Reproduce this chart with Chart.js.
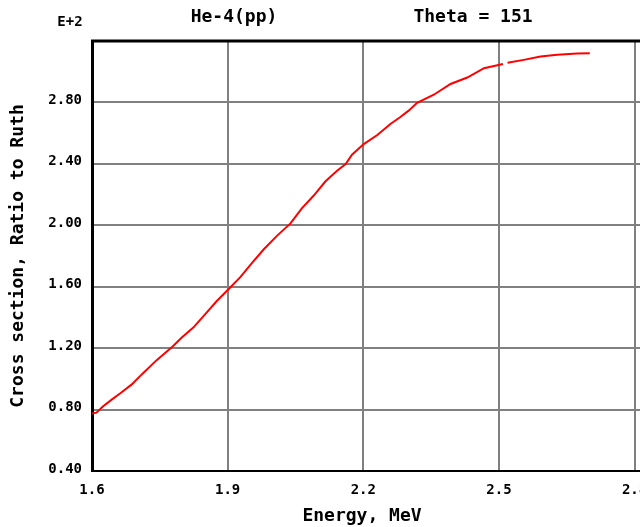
<!DOCTYPE html>
<html>
<head>
<meta charset="utf-8">
<script src="https://cdn.jsdelivr.net/npm/chart.js@4/dist/chart.umd.min.js"></script>
<style>
  html, body { margin: 0; padding: 0; background: #fff; overflow: hidden; }
  #wrap { width: 640px; height: 527px; overflow: hidden; }
  canvas { display: block; }
</style>
</head>
<body>
<div id="wrap"><canvas id="chart" width="725" height="527"></canvas></div>
<script>
// He-4(pp), Theta = 151 -- cross section ratio to Rutherford (units of E+2)
const energy = [1.600, 1.610, 1.624, 1.645, 1.662, 1.688, 1.710, 1.743, 1.779, 1.798,
                1.824, 1.850, 1.876, 1.904, 1.928, 1.954, 1.980, 2.009, 2.039, 2.064,
                2.090, 2.116, 2.142, 2.161, 2.175, 2.201, 2.231, 2.260, 2.282, 2.301,
                2.319, 2.356, 2.393, 2.430, 2.467, 2.509, 2.514, 2.519, 2.555, 2.592,
                2.629, 2.673, 2.701];
const ratio = [0.775, 0.780, 0.820, 0.868, 0.905, 0.964, 1.029, 1.122, 1.213, 1.268,
               1.334, 1.420, 1.507, 1.590, 1.662, 1.755, 1.844, 1.931, 2.012, 2.110,
               2.192, 2.285, 2.355, 2.399, 2.460, 2.529, 2.588, 2.660, 2.705, 2.748,
               2.797, 2.850, 2.920, 2.962, 3.023, 3.050, null, 3.058, 3.077, 3.099,
               3.110, 3.118, 3.120];
const xTicks = [1.6, 1.9, 2.2, 2.5, 2.8];
const yTicks = [0.40, 0.80, 1.20, 1.60, 2.00, 2.40, 2.80];

const MONO = '"DejaVu Sans Mono", "Liberation Mono", monospace';
const GRID = '#808080';

// frame top edge + the free-standing labels
const labelsPlugin = {
    id: 'labels',
    afterDraw(chart) {
        const ctx = chart.ctx;
        const a = chart.chartArea;
        ctx.save();
        ctx.strokeStyle = '#000';
        ctx.lineWidth = 3;
        ctx.beginPath();
        ctx.moveTo(a.left - 1, a.top);
        ctx.lineTo(a.right, a.top);
        ctx.stroke();

        ctx.fillStyle = '#000';
        ctx.textBaseline = 'middle';
        ctx.textAlign = 'center';
        ctx.font = 'bold 14px ' + MONO;
        ctx.fillText('E+2', 70, 22);
        ctx.font = 'bold 18px ' + MONO;
        ctx.fillText('He-4(pp)', 234, 17);
        ctx.fillText('Theta = 151', 473, 17);
        ctx.fillText('Energy, MeV', 362, 516);
        ctx.translate(18, 256);
        ctx.rotate(-Math.PI / 2);
        ctx.fillText('Cross section, Ratio to Ruth', 0, 0);
        ctx.restore();
    }
};

new Chart(document.getElementById('chart'), {
    type: 'line',
    data: {
        datasets: [{
            data: energy.map((e, i) => ({ x: e, y: ratio[i] })),
            borderColor: '#ff0000',
            borderWidth: 2,
            pointRadius: 0,
            tension: 0,
            spanGaps: false
        }]
    },
    options: {
        responsive: false,
        animation: false,
        events: [],
        layout: { padding: { top: 41, left: 0, right: 0, bottom: 0 } },
        plugins: { legend: { display: false }, tooltip: { enabled: false } },
        scales: {
            x: {
                type: 'linear',
                min: 1.6,
                max: 3.0,
                afterBuildTicks: (s) => { s.ticks = xTicks.map(v => ({ value: v })); },
                afterFit: (s) => { s.height = 56; },
                grid: { color: GRID, lineWidth: 2, drawTicks: false },
                border: { color: '#000', width: 2 },
                ticks: {
                    padding: 11,
                    color: '#000',
                    font: { family: MONO, size: 14, weight: 'bold' },
                    callback: (v) => v.toFixed(1)
                }
            },
            y: {
                type: 'linear',
                min: 0.4,
                max: 3.2,
                afterBuildTicks: (s) => { s.ticks = yTicks.map(v => ({ value: v })); },
                afterFit: (s) => { s.width = 92; },
                grid: { color: GRID, lineWidth: 2, drawTicks: false },
                border: { color: '#000', width: 3 },
                ticks: {
                    padding: 10,
                    labelOffset: -2,
                    color: '#000',
                    font: { family: MONO, size: 14, weight: 'bold' },
                    callback: (v) => v.toFixed(2)
                }
            }
        }
    },
    plugins: [labelsPlugin]
});
</script>
</body>
</html>
